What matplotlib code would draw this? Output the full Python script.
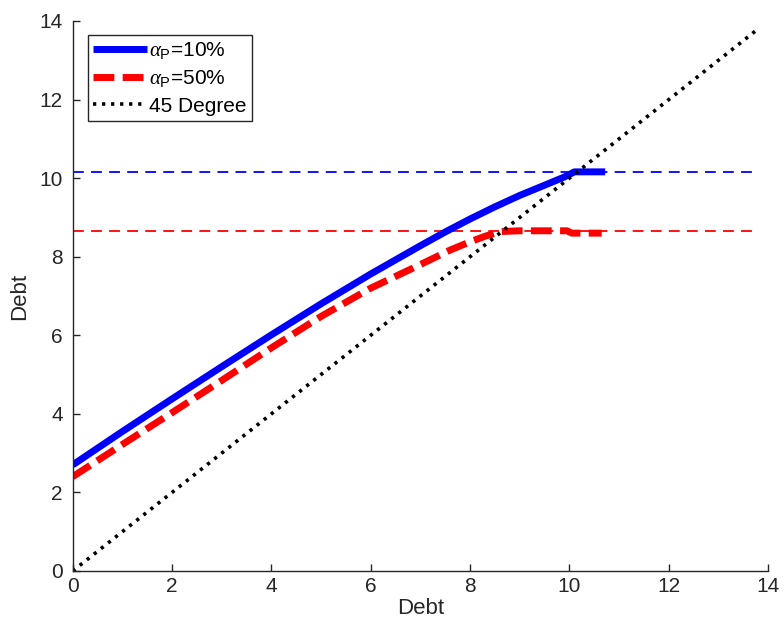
import matplotlib
matplotlib.use("Agg")
import matplotlib.pyplot as plt

plt.rcParams["font.family"] = ["Liberation Sans", "DejaVu Sans"]
plt.rcParams["mathtext.fontset"] = "custom"
plt.rcParams["mathtext.rm"] = "Liberation Sans"
plt.rcParams["mathtext.it"] = "Liberation Serif:italic"

# Policy functions: next-period debt as a function of current debt
debt_10 = [0, 1, 2, 3, 4, 5, 6, 7, 7.5, 8, 8.5, 9, 9.5, 9.9, 10.1, 10.72]
next_10 = [2.70, 3.55, 4.38, 5.20, 6.01, 6.80, 7.56, 8.28, 8.63, 8.96, 9.27,
           9.56, 9.82, 10.03, 10.16, 10.16]

debt_50 = [0, 1, 2, 3, 4, 5, 6, 7, 7.6, 8, 8.3, 8.6, 9, 9.95, 10.05, 10.65]
next_50 = [2.40, 3.22, 4.03, 4.85, 5.68, 6.48, 7.20, 7.80, 8.17, 8.38, 8.52,
           8.64, 8.66, 8.66, 8.60, 8.60]

# Steady-state debt levels
steady_10 = 10.16
steady_50 = 8.66

diag_x = [0, 13.8]
labels = [r"$\alpha_{\mathrm{P}}$=10%", r"$\alpha_{\mathrm{P}}$=50%", "45 Degree"]

fig = plt.figure(figsize=(7.83, 6.25), dpi=100)
ax = fig.add_axes([0.0928, 0.0864, 0.8882, 0.88])

ax.plot(diag_x, [steady_10, steady_10], color="blue", lw=1.3,
        dashes=(6, 4))
ax.plot(diag_x, [steady_50, steady_50], color="red", lw=1.3,
        dashes=(6, 4))

l1, = ax.plot(debt_10, next_10, color="blue", lw=5, solid_capstyle="butt",
              label=labels[0])
l2, = ax.plot(debt_50, next_50, color="red", lw=5, dashes=(3, 1.2),
              label=labels[1])
l3, = ax.plot(diag_x, diag_x, color="black", lw=2.6, dashes=(0.9, 1.6),
              label=labels[2])

ax.set_xlim(0, 14)
ax.set_ylim(0, 14)
ax.set_xticks(range(0, 15, 2))
ax.set_yticks(range(0, 15, 2))
ax.set_xlabel("Debt", fontsize=16, color="#262626", labelpad=2)
ax.set_ylabel("Debt", fontsize=16, color="#262626", labelpad=7)

for side in ("top", "right"):
    ax.spines[side].set_visible(False)
for side in ("left", "bottom"):
    ax.spines[side].set_color("#262626")
    ax.spines[side].set_linewidth(1.0)
ax.tick_params(direction="in", length=5, width=1.0, colors="#262626",
               labelsize=15)
ax.tick_params(axis="x", pad=4)
ax.tick_params(axis="y", pad=7)

leg = ax.legend(handles=[l1, l2, l3], loc="upper left",
                bbox_to_anchor=(0.022, 0.975), fontsize=15,
                handlelength=2.6, handletextpad=0.1, borderpad=0.25,
                labelspacing=0.35, borderaxespad=0.0, fancybox=False,
                framealpha=1, edgecolor="#262626")
leg.get_frame().set_linewidth(1.0)

fig.savefig("out.png", dpi=100)
